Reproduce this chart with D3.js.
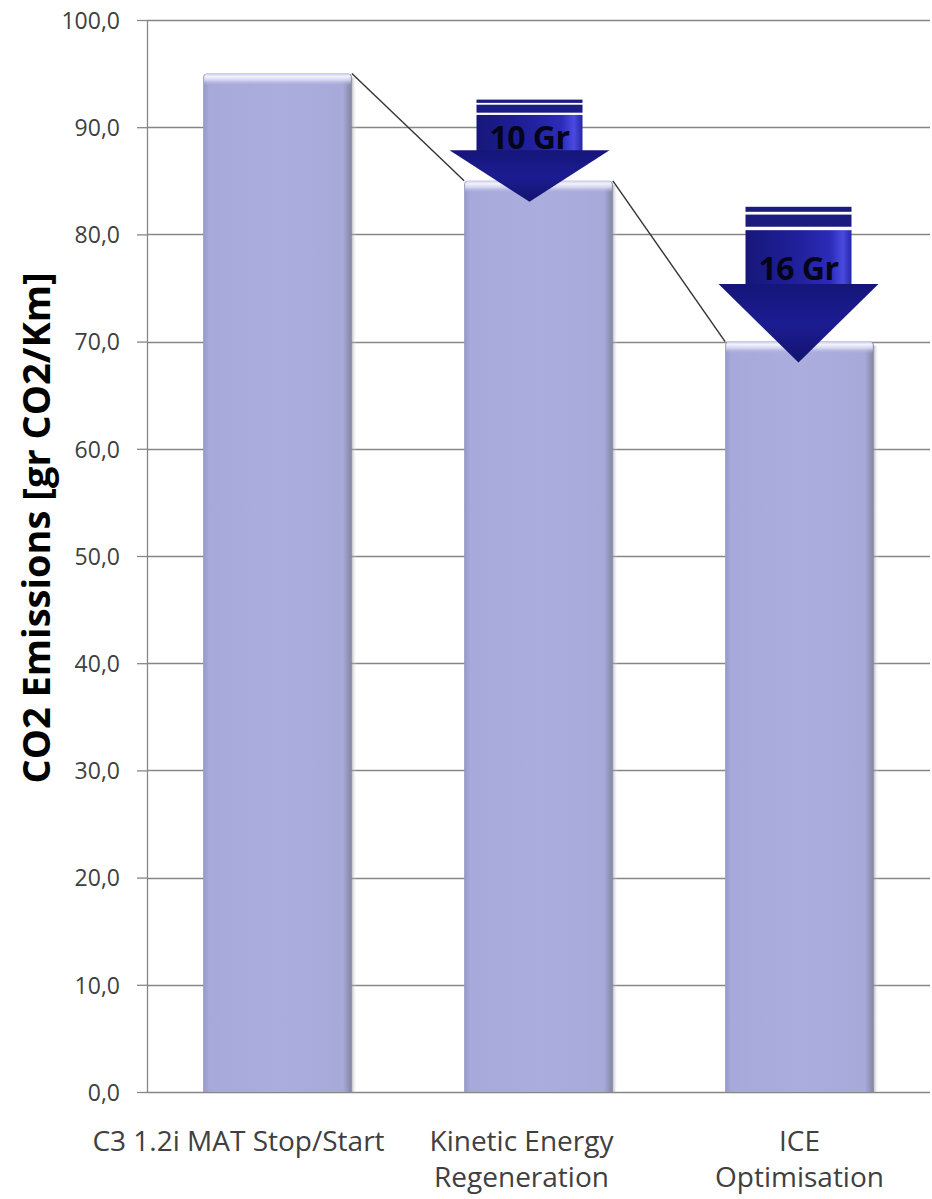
<!DOCTYPE html>
<html>
<head>
<meta charset="utf-8">
<script src="https://cdn.jsdelivr.net/npm/d3@7"></script>
<style>
  html, body { margin: 0; padding: 0; background: #ffffff; }
  svg { display: block; }
  text { font-family: "Open Sans", "Noto Sans", sans-serif; }
</style>
</head>
<body>
<svg id="chart" width="932" height="1199"></svg>
<script>
// ---- data ----
const categories = ["C3 1.2i MAT Stop/Start", "Kinetic Energy\nRegeneration", "ICE\nOptimisation"];
const emissions = [95, 85, 70];                 // gr CO2 / km
const savingsLabels = ["10 Gr", "16 Gr"];       // reduction step between consecutive bars
const yTicks = [0, 10, 20, 30, 40, 50, 60, 70, 80, 90, 100];
const yTitle = "CO2 Emissions [gr CO2/Km]";

// ---- layout ----
const W = 932, H = 1199;
const plot = { left: 147, right: 930, top: 20, bottom: 1092 };
const labelShift = [-39, -17, 0];   // horizontal nudge of category labels

const svg = d3.select("#chart");
const defs = svg.append("defs");

const x = d3.scaleBand()
  .domain(categories)
  .range([plot.left, plot.right])
  .paddingInner(0.43)
  .paddingOuter(0.215);

const y = d3.scaleLinear().domain([0, 100]).range([plot.bottom, plot.top]);

const fmt = v => d3.format(".1f")(v).replace(".", ",");

// ---- gradients ----
const barGrad = defs.append("linearGradient").attr("id", "barGrad")
  .attr("x1", "0").attr("x2", "1").attr("y1", "0").attr("y2", "0");
[[0, "#9699c6"], [0.04, "#a6a9d9"], [0.5, "#aaadde"], [0.94, "#a7aad9"], [0.97, "#9597bd"], [1, "#83859e"]]
  .forEach(([o, c]) => barGrad.append("stop").attr("offset", o).attr("stop-color", c));

const barTop = defs.append("linearGradient").attr("id", "barTop")
  .attr("x1", "0").attr("x2", "0").attr("y1", "0").attr("y2", "1");
[[0, "#c9cbe9", 1], [0.25, "#f2f3fb", 1], [0.55, "#dfe0f3", 0.8], [1, "#aaadde", 0]]
  .forEach(([o, c, a]) => barTop.append("stop").attr("offset", o).attr("stop-color", c).attr("stop-opacity", a));

const shadowGrad = defs.append("linearGradient").attr("id", "barShadow")
  .attr("x1", "0").attr("x2", "1").attr("y1", "0").attr("y2", "0");
[[0, "#8f8f9c", 0.55], [1, "#ffffff", 0]]
  .forEach(([o, c, a]) => shadowGrad.append("stop").attr("offset", o).attr("stop-color", c).attr("stop-opacity", a));

const shaftGrad = defs.append("linearGradient").attr("id", "shaftGrad")
  .attr("x1", "0").attr("x2", "1").attr("y1", "0").attr("y2", "0");
[[0, "#17177a"], [0.45, "#1f1f98"], [0.8, "#2b2bb8"], [0.92, "#4a4ae0"], [1, "#2626a6"]]
  .forEach(([o, c]) => shaftGrad.append("stop").attr("offset", o).attr("stop-color", c));

const headGrad = defs.append("linearGradient").attr("id", "headGrad")
  .attr("x1", "0").attr("x2", "0").attr("y1", "0").attr("y2", "1");
[[0, "#15157a"], [0.5, "#1c1c92"], [1, "#13136e"]]
  .forEach(([o, c]) => headGrad.append("stop").attr("offset", o).attr("stop-color", c));

// ---- gridlines, ticks and axis ----
const yAxis = d3.axisLeft(y)
  .tickValues(yTicks)
  .tickSize(10)
  .tickFormat(fmt);

const gAxis = svg.append("g").attr("transform", `translate(${plot.left},0)`).call(yAxis);
gAxis.select(".domain").attr("stroke", "#868686").attr("stroke-width", 1.3)
  .attr("d", `M0.5,${plot.top}V${plot.bottom}`);
gAxis.selectAll(".tick line").attr("stroke", "#868686").attr("stroke-width", 1.3);
gAxis.selectAll(".tick text")
  .attr("x", -27)
  .attr("dy", "0.36em")
  .attr("fill", "#404040")
  .style("font-size", "23px")
  .style("font-family", "'Open Sans', sans-serif");

svg.append("g").selectAll("line").data(yTicks).join("line")
  .attr("x1", plot.left).attr("x2", plot.right)
  .attr("y1", d => Math.round(y(d)) + 0.5).attr("y2", d => Math.round(y(d)) + 0.5)
  .attr("stroke", "#868686").attr("stroke-width", 1.3);

// ---- bars ----
const rows = categories.map((c, i) => ({ cat: c, v: emissions[i], i }));
const bw = x.bandwidth();

const gBars = svg.append("g");
// soft shadow to the right of each bar
gBars.selectAll("rect.shadow").data(rows).join("rect").attr("class", "shadow")
  .attr("x", d => x(d.cat) + bw)
  .attr("y", d => y(d.v) + 4)
  .attr("width", 5)
  .attr("height", d => y(0) - y(d.v) - 4)
  .attr("fill", "url(#barShadow)");

gBars.selectAll("path.bar").data(rows).join("path").attr("class", "bar")
  .attr("d", d => {
    const x0 = x(d.cat), x1 = x0 + bw, y0 = y(d.v), yb = y(0), r = 4;
    return `M${x0},${yb}V${y0 + r}Q${x0},${y0} ${x0 + r},${y0}H${x1 - r}Q${x1},${y0} ${x1},${y0 + r}V${yb}Z`;
  })
  .attr("fill", "url(#barGrad)");

gBars.selectAll("path.bevel").data(rows).join("path").attr("class", "bevel")
  .attr("d", d => {
    const x0 = x(d.cat) + 1, x1 = x(d.cat) + bw - 1, y0 = y(d.v), r = 4, h = 12;
    return `M${x0},${y0 + h}V${y0 + r}Q${x0},${y0} ${x0 + r},${y0}H${x1 - r}Q${x1},${y0} ${x1},${y0 + r}V${y0 + h}Z`;
  })
  .attr("fill", "url(#barTop)");

// ---- connector line between bar tops ----
const steps = d3.pairs(rows);
const link = d3.line();
svg.append("g").selectAll("path").data(steps).join("path")
  .attr("d", ([a, b]) => link([[x(a.cat) + bw, y(a.v)], [x(b.cat), y(b.v)]]))
  .attr("fill", "none")
  .attr("stroke", "#333333")
  .attr("stroke-width", 1.4);

// ---- downward arrows for each reduction step ----
const gArrows = svg.append("g");
steps.forEach(([a, b], k) => {
  const cx = x(b.cat) + bw / 2 - (k === 0 ? 9 : 1);
  const top = y(a.v) + 26;           // arrow starts just under the previous bar top
  const tip = y(b.v) + 21;           // and points just past the current bar top
  const L = tip - top;
  const shaftW = 106, headW = 160;
  const headY = top + 0.495 * L;
  const s = shaftW / 2, h = headW / 2;
  const g = gArrows.append("g");

  // striped tail
  const stripes = [[0, 0.032], [0.05, 0.128]];
  stripes.forEach(([f0, f1]) => {
    g.append("rect")
      .attr("x", cx - s).attr("y", top + f0 * L)
      .attr("width", shaftW).attr("height", (f1 - f0) * L)
      .attr("fill", "#1b1b80");
  });
  const shaftTop = top + 0.15 * L;
  g.append("rect")
    .attr("x", cx - s).attr("y", shaftTop)
    .attr("width", shaftW).attr("height", headY - shaftTop + 1)
    .attr("fill", "url(#shaftGrad)");
  g.append("path")
    .attr("d", `M${cx - h},${headY}H${cx + h}L${cx},${tip}Z`)
    .attr("fill", "url(#headGrad)");

  g.append("text")
    .attr("x", cx)
    .attr("y", headY - (k === 0 ? 1 : 4))
    .attr("text-anchor", "middle")
    .attr("fill", "#05051a")
    .style("font-size", "32px")
    .style("font-weight", "700")
    .style("letter-spacing", "-0.5px")
    .text(savingsLabels[k]);
});

// ---- category labels ----
const gCat = svg.append("g");
rows.forEach((d, i) => {
  const t = gCat.append("text")
    .attr("x", x(d.cat) + bw / 2 + labelShift[i])
    .attr("y", 1151)
    .attr("text-anchor", "middle")
    .attr("fill", "#404040")
    .style("font-size", "28px");
  d.cat.split("\n").forEach((line, j) => {
    t.append("tspan")
      .attr("x", x(d.cat) + bw / 2 + labelShift[i])
      .attr("dy", j === 0 ? 0 : 36)
      .text(line);
  });
});

// ---- y-axis title ----
svg.append("text")
  .attr("transform", `translate(50,${(273 + 783) / 2}) rotate(-90)`)
  .attr("text-anchor", "middle")
  .attr("fill", "#000000")
  .style("font-size", "38px")
  .style("font-weight", "700")
  .text(yTitle);
</script>
</body>
</html>
